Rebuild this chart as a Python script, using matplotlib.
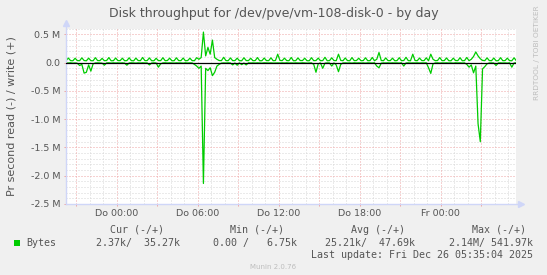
import numpy as np
import matplotlib
matplotlib.use('Agg')
import matplotlib.pyplot as plt
from matplotlib.patches import Rectangle

plt.rcParams['font.family'] = 'DejaVu Sans'

# samples every 10 minutes, first one at Mi 20:15 (hours relative to Do 00:00)
start_hour = -3.75
step_hour = 1 / 6

# write (+) in kB/s
write_k = np.array([
    38, 82, 36, 34, 78, 37, 35, 85, 38, 33, 80, 36,
    34, 88, 37, 36, 76, 35, 38, 90, 34, 35, 82, 37,
    36, 79, 34, 37, 86, 36, 33, 81, 38, 35, 92, 36,
    37, 84, 35, 34, 78, 37, 36, 88, 35, 38, 80, 34,
    35, 86, 37, 36, 82, 34, 37, 79, 36, 35, 88, 60,
    90, 542, 120, 270, 150, 400, 90, 60, 38, 36, 95, 37,
    35, 84, 36, 37, 80, 35, 34, 87, 38, 36, 78, 35,
    37, 90, 34, 35, 82, 37, 36, 86, 35, 38, 150, 40,
    36, 80, 37, 35, 92, 34, 36, 84, 38, 37, 79, 35,
    34, 88, 36, 38, 81, 35, 37, 95, 34, 36, 86, 38,
    36, 150, 40, 35, 83, 37, 34, 90, 36, 38, 79, 35,
    37, 86, 35, 36, 92, 34, 60, 180, 38, 35, 84, 37,
    36, 80, 34, 37, 88, 35, 38, 95, 36, 34, 150, 38,
    35, 82, 37, 36, 86, 34, 150, 60, 35, 38, 90, 36,
    37, 84, 35, 34, 80, 38, 36, 88, 34, 37, 92, 35,
    60, 110, 190, 120, 70, 40, 36, 85, 37, 35, 82, 34,
    36, 88, 35, 37, 80, 36, 34, 86, 35,
])

# read (-) in kB/s
read_k = np.array([
    3, 5, 2, 8, 4, 12, 50, 30, 185, 170, 40, 150,
    20, 5, 3, 6, 8, 45, 4, 2, 7, 3, 5, 4,
    6, 3, 8, 45, 5, 2, 4, 7, 3, 6, 2, 5,
    4, 40, 6, 3, 5, 80, 20, 4, 2, 6, 3, 5,
    7, 3, 5, 4, 8, 2, 6, 3, 5, 30, 60, 100,
    60, 2140, 100, 140, 90, 230, 170, 60, 30, 8, 4, 6,
    3, 5, 40, 6, 45, 4, 35, 7, 40, 3, 5, 4,
    6, 3, 5, 8, 2, 4, 6, 3, 7, 5, 4, 6,
    3, 5, 2, 6, 4, 7, 3, 5, 6, 2, 4, 8,
    5, 3, 30, 170, 20, 6, 100, 8, 4, 5, 60, 6,
    40, 160, 30, 5, 3, 6, 4, 7, 2, 5, 3, 6,
    4, 7, 3, 5, 6, 2, 60, 90, 8, 4, 5, 3,
    6, 3, 5, 4, 7, 2, 60, 5, 3, 6, 4, 5,
    3, 6, 4, 5, 2, 90, 190, 20, 5, 3, 7, 4,
    5, 3, 6, 4, 8, 2, 5, 3, 6, 4, 30, 80,
    40, 180, 60, 1080, 1400, 110, 70, 20, 5, 4, 6, 50,
    5, 3, 6, 4, 7, 3, 80, 5, 2.37,
])

x_tick_hours = [0, 6, 12, 18, 24]
x_tick_labels = ['Do 00:00', 'Do 06:00', 'Do 12:00', 'Do 18:00', 'Fr 00:00']
y_tick_values = [0.5e6, 0.0, -0.5e6, -1.0e6, -1.5e6, -2.0e6, -2.5e6]
y_tick_labels = ['0.5 M', '0.0', '-0.5 M', '-1.0 M', '-1.5 M', '-2.0 M', '-2.5 M']

legend_heads = ['Cur (-/+)', 'Min (-/+)', 'Avg (-/+)', 'Max (-/+)']
legend_vals = ['2.37k/  35.27k', '0.00 /   6.75k', '25.21k/  47.69k', '2.14M/ 541.97k']
last_update = 'Last update: Fri Dec 26 05:35:04 2025'

hours = start_hour + np.arange(len(write_k)) * step_hour

W, H = 547, 275
TXT = '#555555'
GREEN = '#00CC00'
MINOR = '#D6D6D6'
MAJOR = '#EFA4A4'
AXIS = '#CFD6F8'

fig = plt.figure(figsize=(W / 100, H / 100), dpi=100, facecolor='#F0F0F0')
left, right, top, bottom = 65.7, 516, 28.8, 203.8
ax = fig.add_axes([left / W, 1 - bottom / H, (right - left) / W, (bottom - top) / H])
ax.set_facecolor('white')
ax.set_xlim(-3.78, 29.56)
ax.set_ylim(-2.5e6, 0.6e6)

# rrdtool style dotted grid: gray every hour / 0.1 M, red every 3 h / 0.5 M
dot = (0, (1, 2))
for h in range(-3, 30):
    c = MAJOR if h % 3 == 0 else MINOR
    ax.axvline(h, color=c, lw=0.72, ls=dot, zorder=0.5 if h % 3 else 0.6)
for k in range(-25, 7):
    c = MAJOR if k % 5 == 0 else MINOR
    ax.axhline(k * 1e5, color=c, lw=0.72, ls=dot, zorder=0.5 if k % 5 else 0.6)

ax.plot(hours, write_k * 1e3, color=GREEN, lw=0.9, zorder=2)
ax.plot(hours, -read_k * 1e3, color=GREEN, lw=0.9, zorder=2)
ax.axhline(0, color='black', lw=0.9, zorder=3)

for s in ax.spines.values():
    s.set_visible(False)
ax.plot([0, 0], [0, 1.035], color=AXIS, lw=1, transform=ax.transAxes, clip_on=False)
ax.plot([0, 1.012], [0, 0], color=AXIS, lw=1, transform=ax.transAxes, clip_on=False)
ax.plot([0], [1.035], marker='^', ms=4.5, color=AXIS, transform=ax.transAxes, clip_on=False)
ax.plot([1.012], [0], marker='>', ms=4.5, color=AXIS, transform=ax.transAxes, clip_on=False)

ax.set_xticks(range(-3, 30, 3))
ax.set_xticklabels([x_tick_labels[x_tick_hours.index(h)] if h in x_tick_hours else '' for h in range(-3, 30, 3)])
ax.set_yticks(y_tick_values)
ax.set_yticklabels(y_tick_labels)
ax.tick_params(axis='both', colors=MAJOR, length=1.5, width=0.72, labelcolor=TXT, labelsize=6.8)
ax.tick_params(axis='x', pad=2.2)
ax.tick_params(axis='y', pad=2.6)

fig.text(0.5, 1 - 13.5 / H, 'Disk throughput for /dev/pve/vm-108-disk-0 - by day',
         ha='center', va='center', fontsize=9, color=TXT)
fig.text(12 / W, 1 - (top + bottom) / 2 / H, 'Pr second read (-) / write (+)',
         rotation=90, ha='center', va='center', fontsize=8, color=TXT)
fig.text(537 / W, 1 - 5 / H, 'RRDTOOL / TOBI OETIKER', rotation=90, ha='center', va='top',
         fontsize=5.3, color='#BDBDBD')
fig.text(273 / W, 1 - 267 / H, 'Munin 2.0.76', ha='center', va='center', fontsize=5, color='#BDBDBD')

mono = 'DejaVu Sans Mono'
head_right = [164, 284, 405, 526]
val_right = [179.6, 297, 415, 533]
for txt, xr in zip(legend_heads, head_right):
    fig.text(xr / W, 1 - 229.9 / H, txt, ha='right', va='center', fontsize=7.2, family=mono, color=TXT)
for txt, xr in zip(legend_vals, val_right):
    fig.text(xr / W, 1 - 242.8 / H, txt, ha='right', va='center', fontsize=7.2, family=mono, color=TXT)
fig.patches.append(Rectangle((14 / W, 1 - 246 / H), 6 / W, 6 / H, transform=fig.transFigure,
                             facecolor=GREEN, edgecolor='none'))
fig.text(26 / W, 1 - 242.8 / H, 'Bytes', ha='left', va='center', fontsize=7.2, family=mono, color=TXT)
fig.text(533 / W, 1 - 255 / H, last_update, ha='right', va='center', fontsize=7.2, family=mono, color=TXT)

fig.savefig('out.png', dpi=100, facecolor=fig.get_facecolor())
